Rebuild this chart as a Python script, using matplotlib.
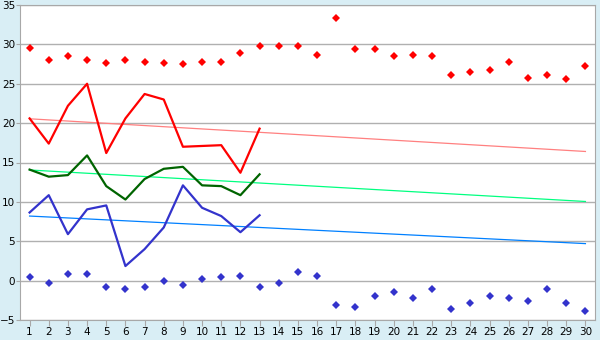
import matplotlib
matplotlib.use('Agg')
import matplotlib.pyplot as plt

days = list(range(1, 31))

# upper dots (red) and lower dots (blue)
red_dots = [29.6, 28.0, 28.5, 28.0, 27.6, 28.0, 27.7, 27.6, 27.45, 27.8,
            27.8, 28.85, 29.85, 29.85, 29.85, 28.6, 33.3, 29.35, 29.35, 28.5,
            28.6, 28.5, 26.05, 26.55, 26.8, 27.8, 25.7, 26.05, 25.55, 27.2]
blue_dots = [0.4, -0.25, 0.9, 0.9, -0.75, -1.1, -0.75, -0.1, -0.5, 0.25,
             0.4, 0.65, -0.75, -0.25, 1.15, 0.65, -3.15, -3.3, -2.0, -1.5,
             -2.15, -1.0, -3.55, -2.8, -1.9, -2.15, -2.55, -1.1, -2.8, -3.9]

# lines for the first 13 days
line_days = list(range(1, 14))
red_line = [20.6, 17.4, 22.2, 25.0, 16.2, 20.6, 23.7, 23.0, 17.0, 17.1, 17.2, 13.7, 19.3]
green_line = [14.1, 13.2, 13.4, 15.9, 12.0, 10.3, 12.9, 14.2, 14.45, 12.1, 12.0, 10.85, 13.5]
blue_line = [8.65, 10.85, 5.9, 9.05, 9.55, 1.85, 4.0, 6.75, 12.1, 9.25, 8.2, 6.15, 8.3]

# trend lines: value at day 1 and day 30
trend_x = [1, 30]
red_trend = [20.55, 16.4]
green_trend = [14.05, 10.05]
blue_trend = [8.2, 4.7]

fig = plt.figure(figsize=(6, 3.4), dpi=100, facecolor='#d9eef5')
ax = fig.add_axes([20 / 600, 20 / 340, 575 / 600, 315 / 340])
ax.set_facecolor('white')

ax.plot(trend_x, red_trend, color='#ff8080', lw=0.9)
ax.plot(trend_x, green_trend, color='#00ff80', lw=0.9)
ax.plot(trend_x, blue_trend, color='#0080ff', lw=0.9)

ax.plot(line_days, red_line, color='#ff0000', lw=1.6)
ax.plot(line_days, green_line, color='#006400', lw=1.6)
ax.plot(line_days, blue_line, color='#3333cc', lw=1.6)

ax.plot(days, red_dots, 'D', color='#ff0000', ms=3.8, mew=0)
ax.plot(days, blue_dots, 'D', color='#3333cc', ms=3.8, mew=0)

ax.set_xlim(0.5, 30.5)
ax.set_ylim(-5, 35)
ax.set_xticks(days)
ax.set_yticks(range(-5, 36, 5))
ax.yaxis.grid(True, color='#b0b0b0', lw=1)
ax.set_axisbelow(True)
for s in ax.spines.values():
    s.set_color('#a8a8a8')
ax.tick_params(colors='#a8a8a8', labelcolor='black', labelsize=7.5, length=4, pad=1)
ax.tick_params(axis='y', length=3, pad=0.5)

fig.savefig('out.png', dpi=100, facecolor=fig.get_facecolor())
